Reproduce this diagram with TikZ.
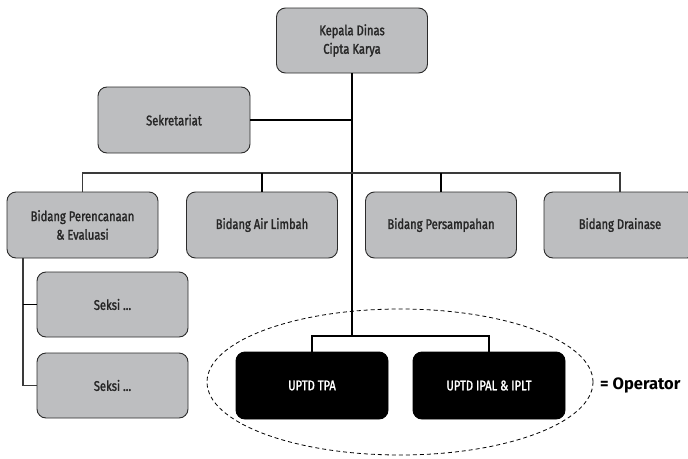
\documentclass[tikz,border=0pt]{standalone}
\usepackage{fontspec}
\usetikzlibrary{shapes.geometric}
\setmainfont{Fira Sans}[FakeStretch=0.8, FakeBold=1.6]
\newfontfamily\opfont{Fira Sans}
\definecolor{boxgray}{HTML}{BDBEC0}
\definecolor{edgegray}{HTML}{2B2B2B}
\definecolor{linegray}{HTML}{3A3A3A}
\begin{document}
\begin{tikzpicture}[x=1pt,y=-1pt,
  box/.style={draw=edgegray, line width=0.9pt, fill=boxgray, rounded corners=9pt,
    minimum width=151pt, minimum height=66pt, align=center, inner sep=0pt,
    font=\fontsize{14}{18.5}\selectfont, text=black!85},
  darkbox/.style={box, fill=black, draw=black, text=white},
  conn/.style={draw=black, line width=1.6pt},
  thinconn/.style={draw=linegray, line width=1.1pt},
  opline/.style={draw=black, line width=0.8pt, dash pattern=on 4pt off 3pt}
]
\useasboundingbox (0,0) rectangle (688,458);
\clip (0,0) rectangle (688,458);

\node[box, minimum height=65pt] (kepala) at (352,40.5) {Kepala Dinas\\Cipta Karya};
\node[box, minimum width=152pt] (sek) at (174,120) {Sekretariat};
\node[box] (b1) at (82.5,225) {Bidang Perencanaan\\\& Evaluasi};
\node[box] (b2) at (262,225) {Bidang Air Limbah};
\node[box] (b3) at (441,225) {Bidang Persampahan};
\node[box, minimum width=152pt] (b4) at (620,225) {Bidang Drainase};
\node[box, minimum height=65pt] (s1) at (112.5,304.5) {Seksi ...};
\node[box, minimum height=65pt] (s2) at (112.5,385.5) {Seksi ...};
\node[darkbox, minimum width=152pt, minimum height=67pt] (u1) at (312,385.5) {UPTD TPA};
\node[darkbox, minimum width=152pt, minimum height=67pt] (u2) at (489,385.5) {UPTD IPAL \& IPLT};

\node[opline, ellipse, minimum width=386pt, minimum height=146pt, inner sep=0pt] (op) at (400,382) {};
\node[font=\opfont\bfseries\fontsize{16.5}{18}\selectfont, anchor=west, inner sep=0pt] (optext) at (600,385) {= Operator};

\coordinate (bar) at (0,173);
\coordinate (ubar) at (352,336);
\coordinate (lv) at (23,0);

\draw[conn] (kepala.south) -- (ubar);
\draw[conn] (sek.east) -- (sek.east -| kepala.south);
\draw[thinconn] (b1.north) -- (b1.north |- bar) -| (b4.north);
\draw[conn] (b2.north) -- (b2.north |- bar);
\draw[conn] (b3.north) -- (b3.north |- bar);
\draw[conn] (u1.north) -- (u1.north |- ubar) -| (u2.north);
\draw[thinconn] (b1.south -| lv) |- (s2.west);
\draw[conn] (s1.west -| lv) -- (s1.west);
\end{tikzpicture}
\end{document}
